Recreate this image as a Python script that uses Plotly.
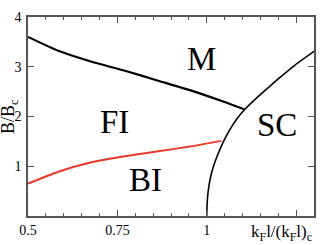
import plotly.graph_objects as go

# M / FI boundary
mfi_x = [0.5, 0.585, 0.678, 0.771, 0.864, 0.957, 1.05, 1.106]
mfi_y = [3.60, 3.32, 3.10, 2.92, 2.72, 2.52, 2.29, 2.14]
# FI / BI boundary (red)
fib_x = [0.5, 0.585, 0.678, 0.771, 0.864, 0.957, 1.041]
fib_y = [0.65, 0.89, 1.08, 1.20, 1.30, 1.40, 1.51]
# SC boundary
sc_x = [1.0, 1.001, 1.004, 1.01, 1.018, 1.03, 1.045, 1.065, 1.085, 1.106, 1.13, 1.153, 1.199, 1.246, 1.3]
sc_y = [0.0, 0.25, 0.50, 0.76, 0.98, 1.22, 1.47, 1.74, 1.96, 2.14, 2.31, 2.46, 2.75, 3.03, 3.31]

x_ticks = [0.5, 0.75, 1, 1.25]
x_ticktext = ["0.5", "0.75", "1", ""]
y_ticks = [1, 2, 3, 4]
y_ticktext = ["1", "2", "3", "4"]

regions = ["M", "FI", "BI", "SC"]
region_x = [0.986, 0.743, 0.830, 1.196]
region_y = [3.16, 1.88, 0.72, 1.82]

font = "Liberation Serif, Times New Roman, serif"
axc = "#555555"

fig = go.Figure()
fig.add_trace(go.Scatter(x=mfi_x, y=mfi_y, mode="lines", line=dict(color="black", width=2.2, shape="spline", smoothing=0.6)))
fig.add_trace(go.Scatter(x=fib_x, y=fib_y, mode="lines", line=dict(color="#e8392a", width=2, shape="spline", smoothing=0.6)))
fig.add_trace(go.Scatter(x=sc_x, y=sc_y, mode="lines", line=dict(color="black", width=1.6, shape="spline", smoothing=0.4)))

for t, x, y in zip(regions, region_x, region_y):
    fig.add_annotation(x=x, y=y, text=t, showarrow=False, font=dict(family=font, size=33, color="black"),
                       xanchor="center", yanchor="middle")

fig.add_annotation(xref="paper", yref="paper", x=1.0, y=0, xanchor="right", yanchor="top", yshift=-4,
                   text="k<sub>F</sub>l/(k<sub>F</sub>l)<sub>c</sub>", showarrow=False,
                   font=dict(family=font, size=17, color="black"))
fig.add_annotation(xref="paper", yref="paper", x=0, y=0.5, xanchor="right", yanchor="middle", xshift=-5,
                   text="B/B<sub>c</sub>", textangle=-90, showarrow=False,
                   font=dict(family=font, size=18, color="black"))

fig.update_layout(
    width=327, height=245,
    margin=dict(l=28, r=13, t=17, b=29, autoexpand=False),
    plot_bgcolor="white", paper_bgcolor="white",
    showlegend=False,
    font=dict(family=font, size=14, color="black"),
)
fig.update_xaxes(range=[0.5, 1.3], tickmode="array", tickvals=x_ticks, ticktext=x_ticktext, automargin=False,
                 ticks="inside", ticklen=6, tickwidth=1.2, tickcolor=axc,
                 minor=dict(tickmode="linear", tick0=0.5, dtick=0.05, ticks="inside", ticklen=3, tickcolor=axc, tickwidth=1),
                 showline=True, linecolor=axc, linewidth=1.5, mirror="ticks", showgrid=False, zeroline=False)
fig.update_yaxes(range=[0, 4], tickmode="array", tickvals=y_ticks, ticktext=y_ticktext, automargin=False,
                 ticks="inside", ticklen=6, tickwidth=1.2, tickcolor=axc, ticklabelstandoff=2,
                 showline=True, linecolor=axc, linewidth=1.5, mirror="ticks", showgrid=False, zeroline=False)

fig.write_html("out.html", config={"displayModeBar": False},
               post_script="document.body.style.margin='0';document.body.style.padding='0';")
